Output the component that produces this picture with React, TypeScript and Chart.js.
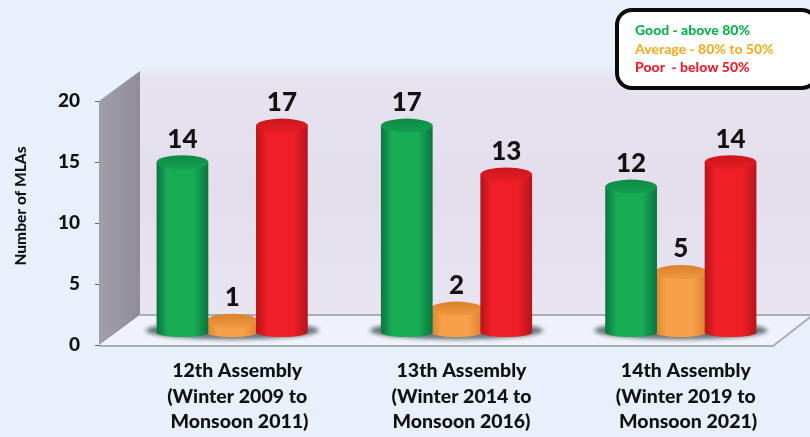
import React, { useEffect, useRef } from "react";
import { Chart, registerables } from "chart.js";

Chart.register(...registerables);

const assemblies = [
  ["12th Assembly", "(Winter 2009 to", " Monsoon 2011)"],
  ["13th Assembly", "(Winter 2014 to", "Monsoon 2016)"],
  ["14th Assembly", "(Winter 2019 to", " Monsoon 2021)"],
];
const goodValues = [14, 17, 12];
const averageValues = [1, 2, 5];
const poorValues = [17, 13, 14];
const seriesLabels = ["Good - above 80%", "Average - 80% to 50%", "Poor  - below 50%"];
const yAxisTitle = "Number of MLAs";

const FONT = "Lato, Carlito, sans-serif";
const PAGE_BG = "#e8f1fb";
const DEPTH_X = 40;
const DEPTH_Y = 30;
const BAR_LIFT = 12;
const BAR_SHIFT = 20;

type Tone = { edge: string; mid: string; top: string; lid: string; text: string };
const tones: Tone[] = [
  { edge: "#0a7440", mid: "#18ac55", top: "#0c8b45", lid: "#149f50", text: "#10b050" },
  { edge: "#d88330", mid: "#f6a04a", top: "#d9822c", lid: "#ef9640", text: "#edb02c" },
  { edge: "#b8141b", mid: "#ee1f26", top: "#cc161d", lid: "#e61c23", text: "#ee2030" },
];

// Back wall, side wall and floor of the 3D box, derived from the plot area.
const backdrop = {
  id: "backdrop",
  beforeDatasetsDraw(chart: any) {
    const { ctx, chartArea: a, width } = chart;
    const wallTop = a.top - DEPTH_Y;
    const floorBack = a.bottom - DEPTH_Y;
    ctx.save();

    const wall = ctx.createLinearGradient(0, wallTop - 8, 0, floorBack);
    wall.addColorStop(0, PAGE_BG);
    wall.addColorStop(0.07, "#e6e2ee");
    wall.addColorStop(0.5, "#e4deeb");
    wall.addColorStop(1, "#e8e4f0");
    ctx.fillStyle = wall;
    ctx.fillRect(a.left + DEPTH_X, wallTop - 8, width, floorBack - wallTop + 8);

    const side = ctx.createLinearGradient(a.left, 0, a.left + DEPTH_X, 0);
    side.addColorStop(0, "#a09fa7");
    side.addColorStop(1, "#8f8c97");
    ctx.fillStyle = side;
    ctx.beginPath();
    ctx.moveTo(a.left - 1, a.top);
    ctx.lineTo(a.left + DEPTH_X, wallTop);
    ctx.lineTo(a.left + DEPTH_X, floorBack);
    ctx.lineTo(a.left - 1, a.bottom);
    ctx.closePath();
    ctx.fill();

    ctx.fillStyle = "#eff3f9";
    ctx.beginPath();
    ctx.moveTo(a.left, a.bottom);
    ctx.lineTo(a.right, a.bottom);
    ctx.lineTo(a.right + DEPTH_X, floorBack);
    ctx.lineTo(a.left + DEPTH_X, floorBack);
    ctx.closePath();
    ctx.fill();

    ctx.strokeStyle = "#a9adb6";
    ctx.lineWidth = 2;
    ctx.beginPath();
    ctx.moveTo(a.left + DEPTH_X, floorBack);
    ctx.lineTo(width, floorBack);
    ctx.stroke();
    ctx.beginPath();
    ctx.moveTo(a.left, a.bottom + 1);
    ctx.lineTo(a.right, a.bottom + 1);
    ctx.lineTo(a.right + DEPTH_X, floorBack);
    ctx.stroke();
    ctx.restore();
  },
};

// Replaces the flat bars with cylinders standing on the floor, plus value labels.
const cylinders = {
  id: "cylinders",
  afterDatasetsDraw(chart: any) {
    const { ctx, data } = chart;
    const metas = data.datasets.map((_: any, i: number) => chart.getDatasetMeta(i).data);
    ctx.save();

    // Soft floor shadow under each group of three
    data.labels.forEach((_: any, g: number) => {
      const first = metas[0][g];
      const last = metas[metas.length - 1][g];
      const left = first.x + BAR_SHIFT - first.width / 2 - 12;
      const right = last.x + BAR_SHIFT + last.width / 2 + 12;
      ctx.save();
      ctx.filter = "blur(2px)";
      ctx.fillStyle = "#66727a";
      ctx.beginPath();
      ctx.ellipse((left + right) / 2, first.base - BAR_LIFT - 2, (right - left) / 2, 9, 0, 0, Math.PI * 2);
      ctx.fill();
      ctx.restore();
    });

    const order = [1, 0, 2];
    data.labels.forEach((_: any, g: number) => {
      order.forEach((d) => {
        const bar = metas[d][g];
        const tone = tones[d];
        const cx = bar.x + BAR_SHIFT;
        const rx = bar.width / 2 + 1;
        const topY = bar.y - BAR_LIFT;
        const baseY = bar.base - BAR_LIFT;
        const body = ctx.createLinearGradient(cx - rx, 0, cx + rx, 0);
        body.addColorStop(0, tone.edge);
        body.addColorStop(0.22, tone.mid);
        body.addColorStop(0.72, tone.mid);
        body.addColorStop(1, tone.edge);
        ctx.fillStyle = body;
        ctx.beginPath();
        ctx.moveTo(cx - rx, topY);
        ctx.lineTo(cx - rx, baseY);
        ctx.ellipse(cx, baseY, rx, 4.5, 0, Math.PI, 0, true);
        ctx.lineTo(cx + rx, topY);
        ctx.closePath();
        ctx.fill();
        const lid = ctx.createLinearGradient(0, topY - 7, 0, topY + 7);
        lid.addColorStop(0, tone.top);
        lid.addColorStop(1, tone.lid);
        ctx.fillStyle = lid;
        ctx.beginPath();
        ctx.ellipse(cx, topY, rx, 7, 0, 0, Math.PI * 2);
        ctx.fill();
      });
    });

    ctx.fillStyle = "#111";
    ctx.font = `900 26px ${FONT}`;
    ctx.textAlign = "center";
    ctx.textBaseline = "middle";
    data.datasets.forEach((ds: any, d: number) => {
      ds.data.forEach((v: number, g: number) => {
        const bar = metas[d][g];
        ctx.fillText(String(v), bar.x + BAR_SHIFT, bar.y - BAR_LIFT - 23);
      });
    });
    ctx.restore();
  },
};

// Rounded key box in the top-right corner and the rotated axis title.
const annotations = {
  id: "annotations",
  afterDraw(chart: any) {
    const { ctx, data, chartArea: a } = chart;
    ctx.save();
    ctx.beginPath();
    ctx.roundRect(617, 10, 200, 78, 15);
    ctx.fillStyle = "#ffffff";
    ctx.fill();
    ctx.lineWidth = 4;
    ctx.strokeStyle = "#0a0a0a";
    ctx.stroke();

    ctx.font = `900 14px ${FONT}`;
    ctx.textAlign = "left";
    ctx.textBaseline = "middle";
    const rows = [30, 49, 67];
    data.datasets.forEach((ds: any, i: number) => {
      ctx.fillStyle = tones[i].text;
      ctx.fillText(ds.label, 635, rows[i]);
    });

    ctx.translate(21, a.top + 105);
    ctx.rotate(-Math.PI / 2);
    ctx.textAlign = "center";
    ctx.fillStyle = "#111";
    ctx.font = `900 15.5px ${FONT}`;
    ctx.fillText(yAxisTitle, 0, 0);
    ctx.restore();
  },
};

export default function App() {
  const ref = useRef<HTMLCanvasElement>(null);

  useEffect(() => {
    if (!ref.current) return;
    const clear = "rgba(0,0,0,0)";
    const chart = new Chart(ref.current, {
      type: "bar",
      data: {
        labels: assemblies,
        datasets: [
          { label: seriesLabels[0], data: goodValues, backgroundColor: clear },
          { label: seriesLabels[1], data: averageValues, backgroundColor: clear },
          { label: seriesLabels[2], data: poorValues, backgroundColor: clear },
        ],
      },
      options: {
        animation: false,
        responsive: false,
        layout: { padding: { top: 101, right: 37, left: 0, bottom: 0 } },
        datasets: { bar: { categoryPercentage: 0.665, barPercentage: 1 } },
        plugins: { legend: { display: false }, tooltip: { enabled: false } },
        scales: {
          x: {
            grid: { display: false },
            border: { display: false },
            afterFit: (s: any) => { s.height = 92; },
            ticks: {
              color: "#111",
              padding: 5,
              labelOffset: 25,
              maxRotation: 0,
              autoSkip: false,
              font: { family: FONT, weight: 900, size: 19.5, lineHeight: 1.31 },
            },
          },
          y: {
            min: 0,
            max: 20,
            afterFit: (s: any) => { s.width = 100; },
            grid: { drawOnChartArea: false, drawTicks: true, tickLength: 5, color: "#666" },
            border: { display: false },
            ticks: {
              stepSize: 5,
              color: "#111",
              padding: 15,
              font: { family: FONT, weight: 900, size: 19 },
            },
          },
        },
      },
      plugins: [backdrop, cylinders, annotations],
    });
    return () => chart.destroy();
  }, []);

  return (
    <div style={{ position: "fixed", left: 0, top: 0, width: 810, height: 437, background: PAGE_BG, overflow: "hidden" }}>
      <canvas ref={ref} width={810} height={437} style={{ display: "block" }} />
    </div>
  );
}
